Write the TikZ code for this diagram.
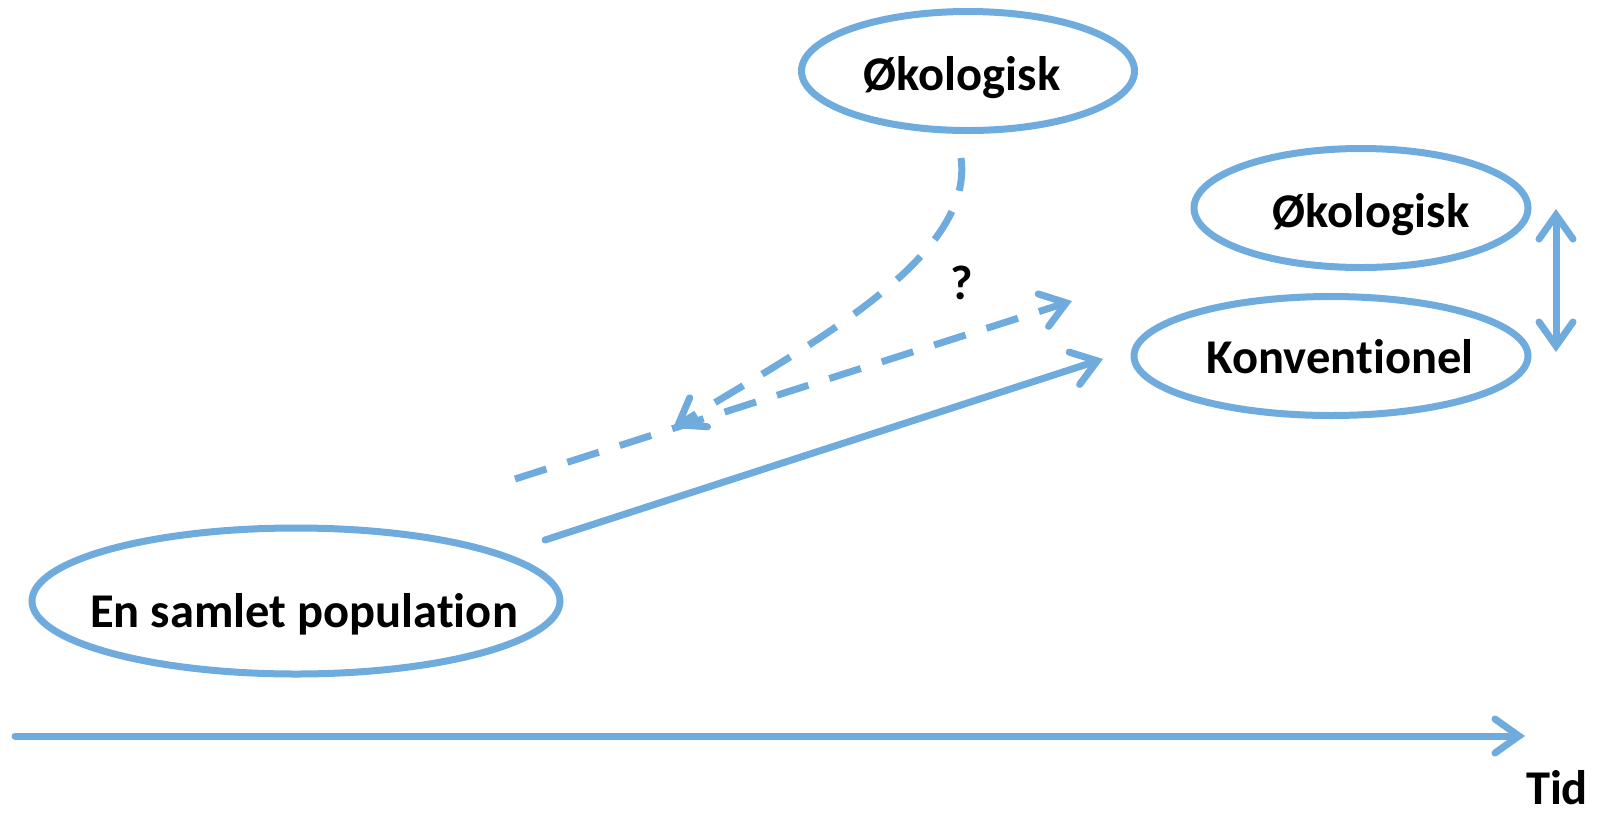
\documentclass[tikz,border=0pt]{standalone}
\usepackage{fontspec}
\setmainfont{Carlito}[Ligatures=NoCommon]
\usetikzlibrary{arrows.meta,shapes.geometric}
\definecolor{lb}{RGB}{111,171,221}
\newcommand{\inell}[3]{\raisebox{#3}[0pt][0pt]{\makebox[0pt]{\hspace*{#1}#2}}}
\begin{document}
\begin{tikzpicture}[x=1pt,y=-1pt,
  lbl/.style={font=\fontsize{48.5}{58}\selectfont\bfseries, inner sep=0pt},
  ell/.style={draw=lb, line width=7pt, ellipse, inner sep=0pt, lbl},
  conn/.style={draw=lb, line width=7pt, line cap=round, -{Straight Barb[length=24pt,width=34pt,line cap=round]}},
  dconn/.style={conn, dash pattern=on 33pt off 22pt, line cap=butt}
]
\useasboundingbox (0,0) rectangle (1598,812);
\node[ell, minimum width=333pt, minimum height=119pt] (oko1) at (968,71) {\inell{-12pt}{Økologisk}{-19pt}};
\node[ell, minimum width=334pt, minimum height=119pt] (oko2) at (1361,208) {\inell{20pt}{Økologisk}{-19pt}};
\node[ell, minimum width=394pt, minimum height=119pt] (konv) at (1331,356) {\inell{18pt}{Konventionel}{-17pt}};
\node[ell, minimum width=528pt, minimum height=146pt] (pop) at (296,601) {\inell{16pt}{En samlet population}{-26pt}};
\node[lbl] (q) at (962,283) {?};
\node[lbl] (tid) at (1557,788) {Tid};
\coordinate (t0) at (15,736);
\coordinate (t1) at (1525,736);
\coordinate (s0) at (545,540);
\coordinate (s1) at (1103,359);
\coordinate (d0) at (515,479);
\coordinate (d1) at (1072,301);
\coordinate (c0) at (961,158);
\coordinate (c1) at (673,428);
\coordinate (v0) at (1556,209);
\coordinate (v1) at (1556,352);
\draw[conn] (t0) -- (t1);
\draw[conn] (s0) -- (s1);
\draw[dconn] (d0) -- (d1);
\draw[dconn] (c0) .. controls (975,260) and (800,350) .. (c1);
\draw[conn, {Straight Barb[length=24pt,width=34pt,line cap=round]}-{Straight Barb[length=24pt,width=34pt,line cap=round]}] (v0) -- (v1);
\end{tikzpicture}
\end{document}
